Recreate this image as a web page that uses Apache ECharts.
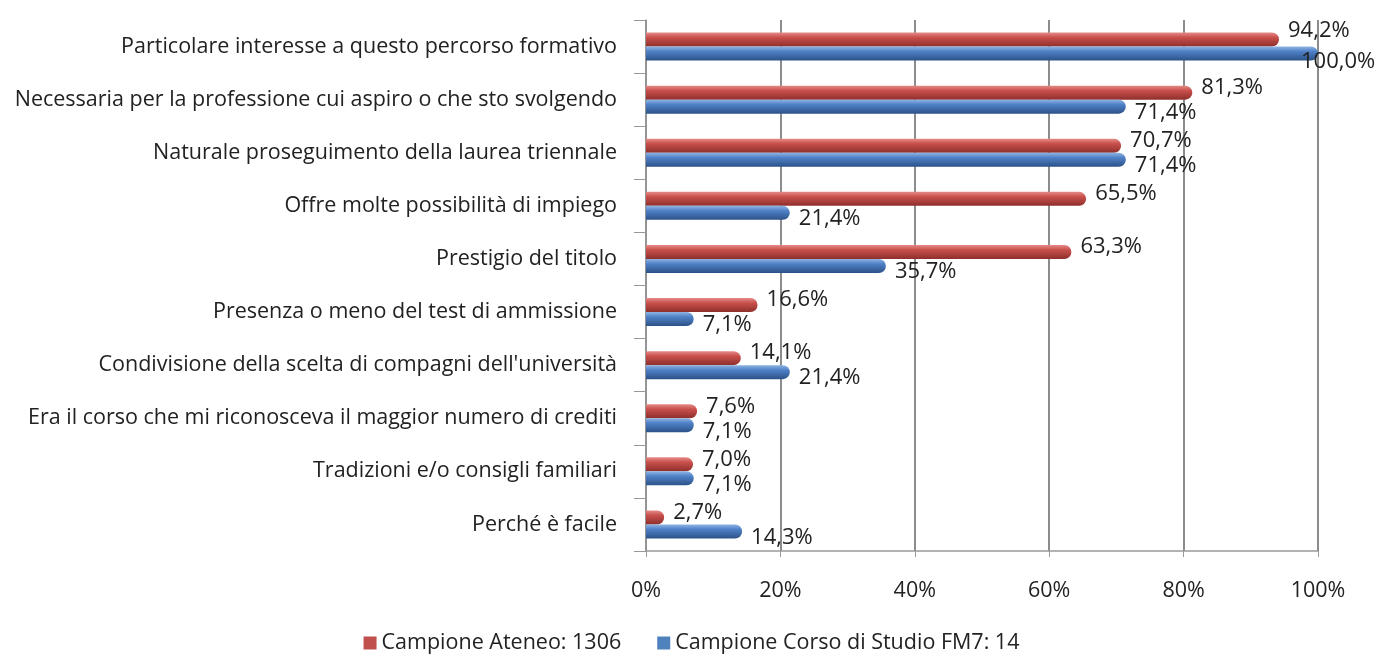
<!DOCTYPE html>
<html>
<head>
<meta charset="utf-8">
<script src="https://cdn.jsdelivr.net/npm/echarts@6/dist/echarts.min.js"></script>
<style>
  html, body { margin: 0; padding: 0; background: #fff; }
  #chart { width: 1383px; height: 655px; }
</style>
</head>
<body>
<div id="chart"></div>
<script>
// motivi della scelta del corso
const categories = [
  'Particolare interesse a questo percorso formativo',
  'Necessaria per la professione cui aspiro o che sto svolgendo',
  'Naturale proseguimento della laurea triennale',
  'Offre molte possibilità di impiego',
  'Prestigio del titolo',
  'Presenza o meno del test di ammissione',
  "Condivisione della scelta di compagni dell'università",
  'Era il corso che mi riconosceva il maggior numero di crediti',
  'Tradizioni e/o consigli familiari',
  'Perché è facile'
]

const seriesNames = ['Campione Ateneo: 1306', 'Campione Corso di Studio FM7: 14']
const seriesColors = ['#c0504d', '#4f81bd']

// percentuali (%)
const ateneo = [94.2, 81.3, 70.7, 65.5, 63.3, 16.6, 14.1, 7.6, 7.0, 2.7]
const corsoFM7 = [100.0, 71.4, 71.4, 21.4, 35.7, 7.1, 21.4, 7.1, 7.1, 14.3]

const xTicks = [0, 20, 40, 60, 80, 100]

const FONT = '"Open Sans", "Noto Sans", sans-serif'

function fmtPct(v) {
  return v.toFixed(1).replace('.', ',') + '%'
}

function cylinder(light, mid, dark) {
  return new echarts.graphic.LinearGradient(0, 0, 0, 1, [
    { offset: 0, color: light },
    { offset: 0.35, color: mid },
    { offset: 1, color: dark }
  ])
}

function buildData(values, dy) {
  return values.map((v, i) => {
    // l'etichetta del 100% resta dentro il grafico
    if (v >= 100) {
      return { value: v, label: { offset: [-26, dy + 2] } }
    }
    // prima riga: etichetta rossa un po' più in alto
    if (i === 0 && dy < 0) {
      return { value: v, label: { offset: [0, dy - 4] } }
    }
    return v
  })
}

const chart = echarts.init(document.getElementById('chart'))

chart.setOption({
  animation: false,
  textStyle: { fontFamily: FONT },
  grid: { left: 646, right: 65, top: 20, bottom: 104 },
  legend: {
    top: 627,
    left: 'center',
    itemWidth: 13,
    itemHeight: 13,
    itemGap: 36,
    icon: 'rect',
    textStyle: { fontSize: 21.5, color: '#222', fontFamily: FONT },
    data: seriesNames.map((n, i) => ({ name: n, itemStyle: { color: seriesColors[i] } }))
  },
  xAxis: {
    type: 'value',
    min: 0,
    max: 100,
    interval: 20,
    axisLine: { show: true, lineStyle: { color: '#999', width: 1.5 } },
    axisTick: { show: true, length: 6, lineStyle: { color: '#999' } },
    axisLabel: {
      margin: 29,
      fontSize: 21.5,
      color: '#222',
      formatter: (v) => (xTicks.includes(v) ? v + '%' : '')
    },
    splitLine: { show: true, lineStyle: { color: '#8c8c8c', width: 2 } }
  },
  yAxis: {
    type: 'category',
    inverse: true,
    data: categories,
    offset: 5,
    axisLine: { show: true, lineStyle: { color: '#999', width: 1.5 } },
    axisTick: { show: true, length: 12, lineStyle: { color: '#999' } },
    axisLabel: { margin: 24, fontSize: 21.5, color: '#222' }
  },
  series: [
    {
      name: seriesNames[0],
      type: 'bar',
      barWidth: 14,
      barGap: '0%',
      data: buildData(ateneo, -5),
      itemStyle: {
        color: cylinder('#e58b88', '#c9504c', '#8e2f2c'),
        borderRadius: [0, 7, 7, 0]
      },
      label: {
        show: true,
        position: 'right',
        distance: 9,
        offset: [0, -5],
        fontSize: 22,
        color: '#222',
        formatter: (p) => fmtPct(p.value)
      }
    },
    {
      name: seriesNames[1],
      type: 'bar',
      barWidth: 14,
      barGap: '0%',
      data: buildData(corsoFM7, 6),
      itemStyle: {
        color: cylinder('#8fb4e3', '#4f81c7', '#2c5287'),
        borderRadius: [0, 7, 7, 0]
      },
      label: {
        show: true,
        position: 'right',
        distance: 9,
        offset: [0, 6],
        fontSize: 22,
        color: '#222',
        formatter: (p) => fmtPct(p.value)
      }
    }
  ],
  color: seriesColors
})
</script>
</body>
</html>
